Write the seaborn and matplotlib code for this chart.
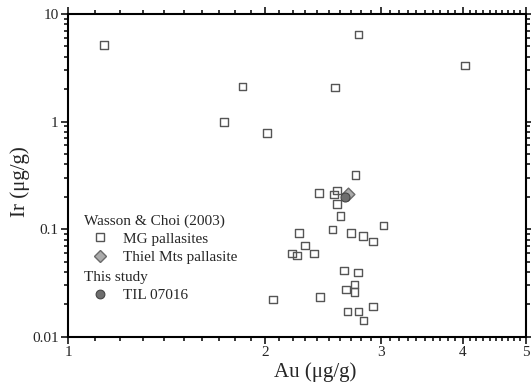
import matplotlib.pyplot as plt
import numpy as np
import seaborn as sns
from matplotlib.lines import Line2D
from matplotlib.ticker import NullFormatter

# Wasson & Choi (2003) MG pallasites
mg_au = [1.134, 1.846, 1.729, 2.01, 2.773, 4.035, 2.555,
         2.747, 2.417, 2.575, 2.548, 2.575, 2.606, 3.03,
         2.25, 2.533, 2.70, 2.817, 2.917, 2.30, 2.194, 2.233, 2.371,
         2.636, 2.767, 2.737, 2.656, 2.737, 2.054, 2.421, 2.917,
         2.671, 2.773, 2.822]
mg_ir = [5.12, 2.11, 0.994, 0.78, 6.43, 3.31, 2.07,
         0.318, 0.216, 0.229, 0.209, 0.171, 0.132, 0.108,
         0.092, 0.099, 0.092, 0.0863, 0.0769, 0.0706, 0.0591, 0.057, 0.0591,
         0.0414, 0.0396, 0.0305, 0.0275, 0.0262, 0.0222, 0.0234, 0.0191,
         0.0172, 0.0172, 0.0142]

# Thiel Mts pallasite
thiel_au = [2.677]
thiel_ir = [0.213]

# This study
til_au = [2.643]
til_ir = [0.201]

x_ticks = [1, 2, 3, 4, 5]
y_ticks = [0.01, 0.1, 1, 10]
y_labels = ["0.01", "0.1", "1", "10"]

sns.set_style("ticks")
plt.rcParams['font.family'] = ['Liberation Serif', 'DejaVu Serif']

fig = plt.figure(figsize=(5.31, 3.82), dpi=100)
ax = fig.add_axes([0.1286, 0.1186, 0.862, 0.8448])

sq_edge = '#555555'
sns.scatterplot(x=mg_au, y=mg_ir, marker='s', s=30, facecolor='none',
                edgecolor=sq_edge, linewidth=1.0, ax=ax, zorder=3)
sns.scatterplot(x=thiel_au, y=thiel_ir, marker='D', s=42, color='#ababab',
                edgecolor='#6a6a6a', linewidth=1.0, ax=ax, zorder=4)
sns.scatterplot(x=til_au, y=til_ir, marker='o', s=42, color='#6e6e6e',
                edgecolor='#444444', linewidth=0.8, ax=ax, zorder=5)

ax.set_xscale('log')
ax.set_yscale('log')
ax.set_xlim(1, 5)
ax.set_ylim(0.01, 10)

ax.set_xticks(x_ticks)
ax.set_xticklabels([str(v) for v in x_ticks])
ax.set_xticks([v for v in np.arange(1.1, 5.0, 0.1) if abs(v - round(v)) > 0.01], minor=True)
ax.xaxis.set_minor_formatter(NullFormatter())
ax.set_yticks(y_ticks)
ax.set_yticklabels(y_labels)

ax.tick_params(which='both', direction='out', top=True, right=True,
               labeltop=False, labelright=False, width=1.1, color='black',
               labelsize=11, pad=2)
ax.tick_params(which='major', length=5)
ax.tick_params(which='minor', length=3)
for sp in ax.spines.values():
    sp.set_linewidth(1.5)
    sp.set_color('black')

ax.set_xlabel('Au (μg/g)', fontsize=15, labelpad=2)
ax.set_ylabel('Ir (μg/g)', fontsize=15, labelpad=1.5)
ax.xaxis.label.set_x(0.54)
ax.yaxis.label.set_y(0.48)

# legenda em dois blocos com titulos alinhados a esquerda
h_mg = Line2D([], [], linestyle='none', marker='s', markersize=5.3,
              markerfacecolor='none', markeredgecolor=sq_edge, markeredgewidth=1.0)
h_thiel = Line2D([], [], linestyle='none', marker='D', markersize=6,
                 markerfacecolor='#ababab', markeredgecolor='#6a6a6a', markeredgewidth=1.0)
h_til = Line2D([], [], linestyle='none', marker='o', markersize=6.3,
               markerfacecolor='#6e6e6e', markeredgecolor='#444444', markeredgewidth=0.8)

kw = dict(frameon=False, fontsize=11, title_fontsize=11, alignment='left',
          handlelength=2.1, handletextpad=0.45, labelspacing=0.3,
          borderpad=0, borderaxespad=0, loc='upper left')
leg1 = ax.legend([h_mg, h_thiel], ['MG pallasites', 'Thiel Mts pallasite'],
                 title='Wasson & Choi (2003)', bbox_to_anchor=(0.035, 0.38), **kw)
ax.add_artist(leg1)
ax.legend([h_til], ['TIL 07016'], title='This study',
          bbox_to_anchor=(0.035, 0.203), **kw)

fig.savefig('out.png', dpi=100)
